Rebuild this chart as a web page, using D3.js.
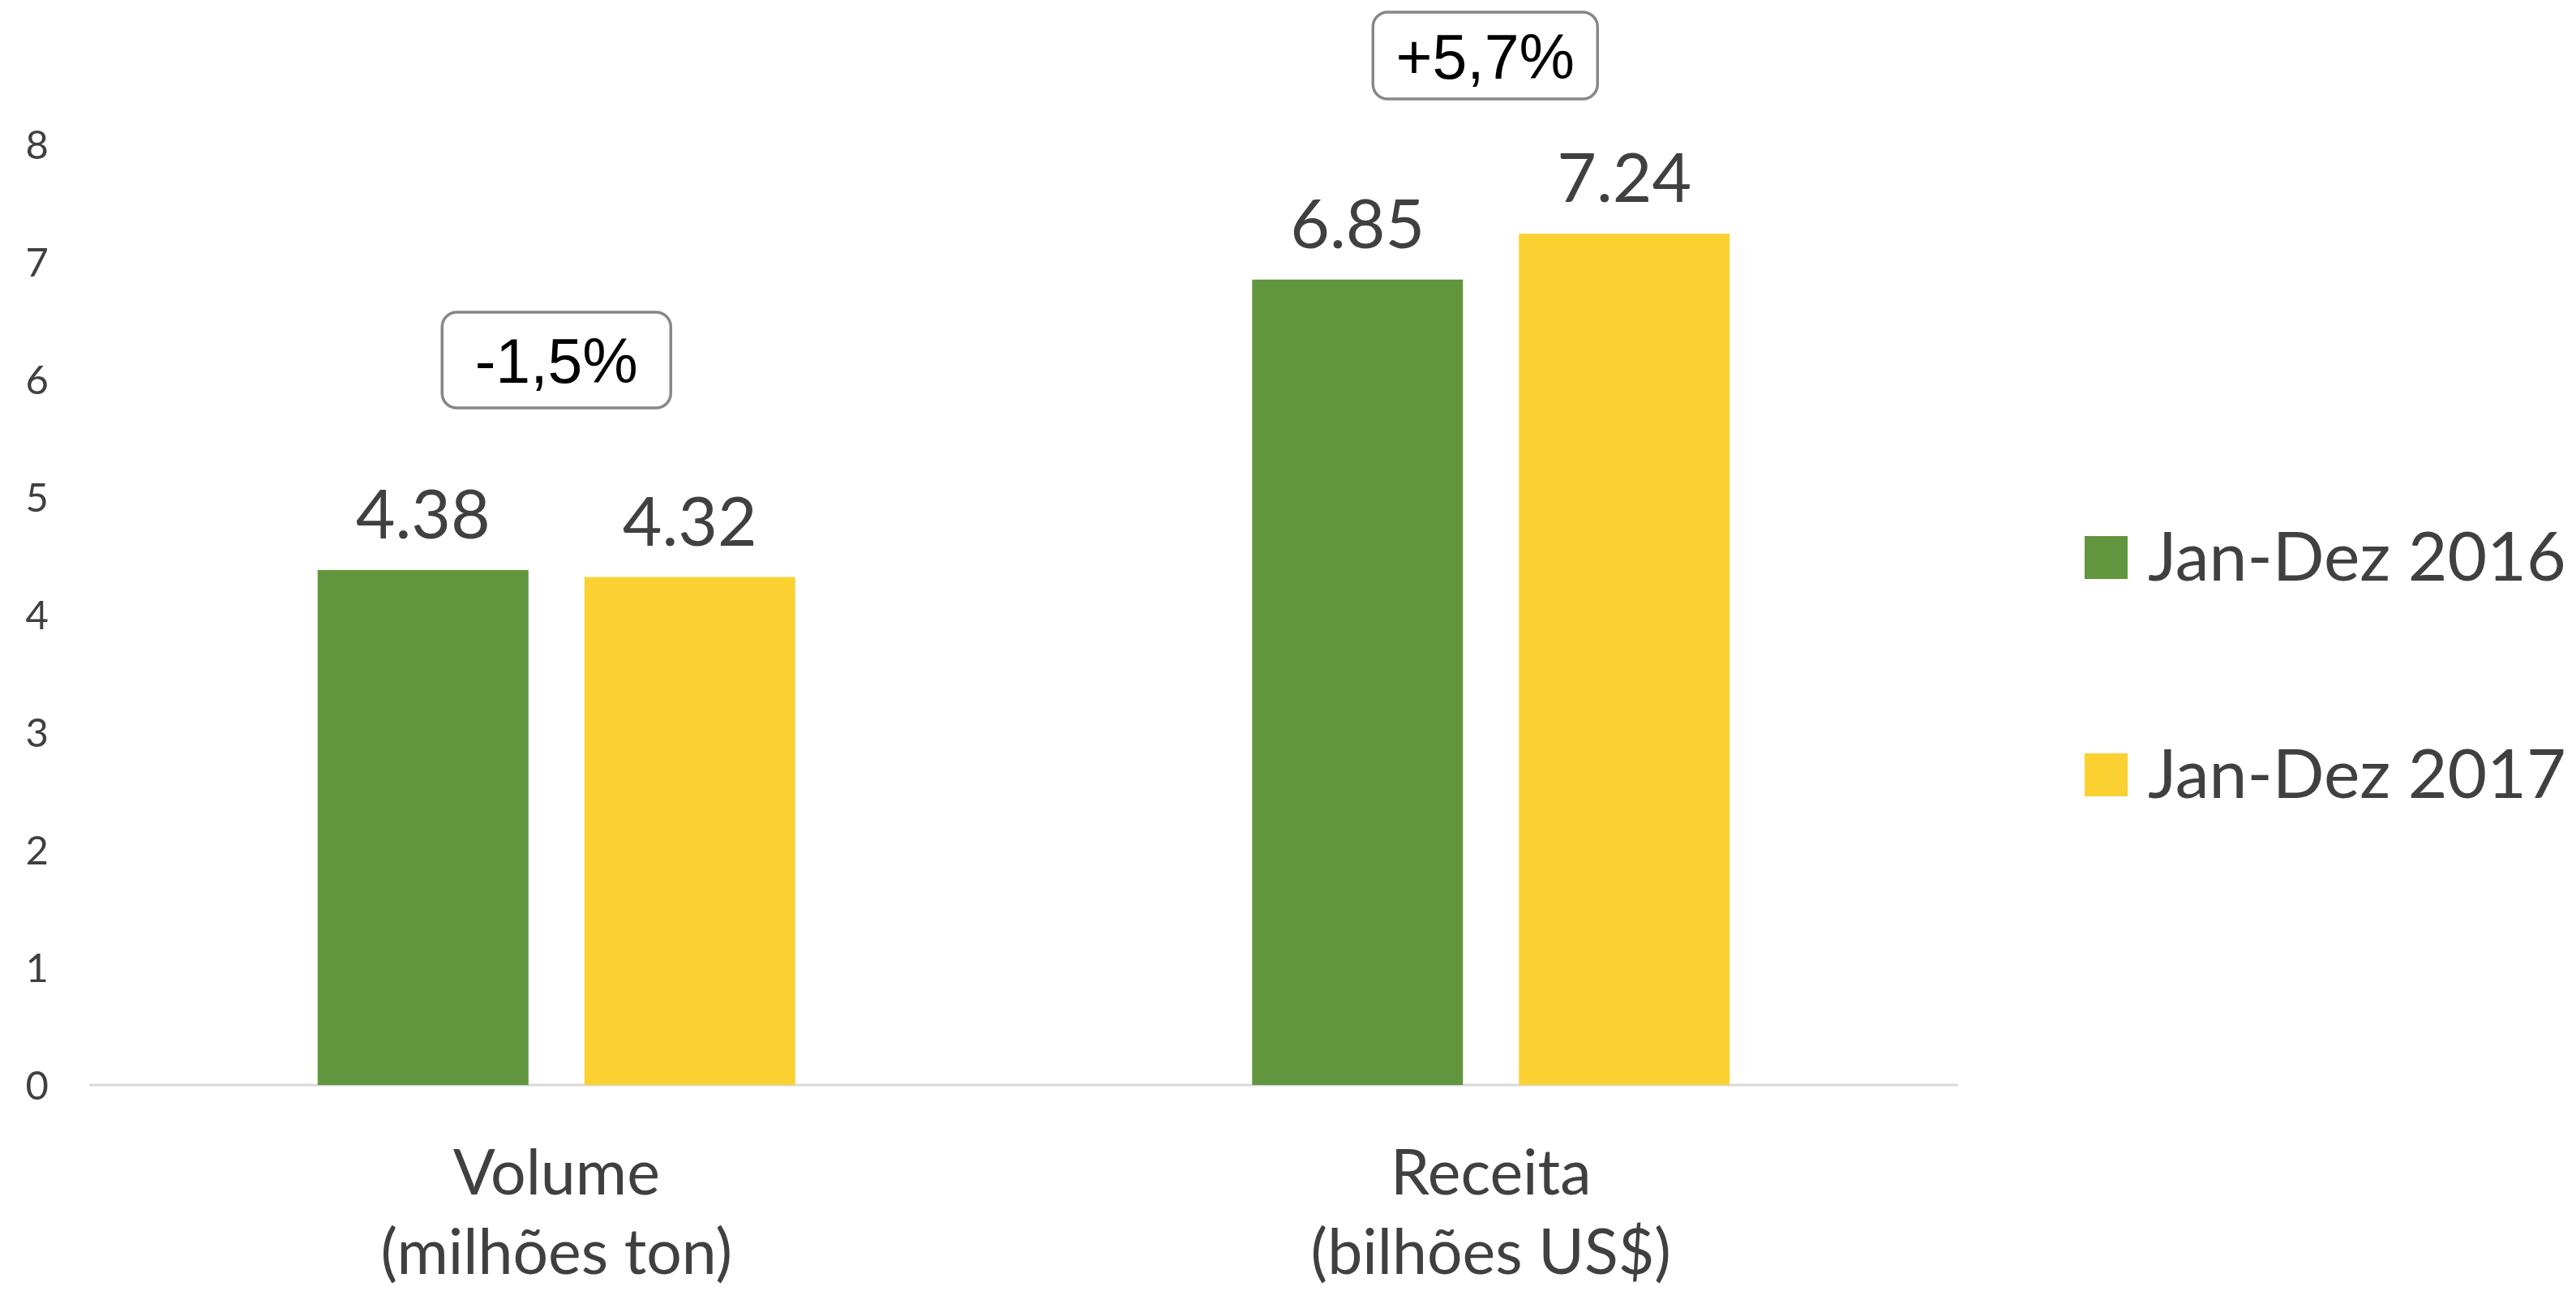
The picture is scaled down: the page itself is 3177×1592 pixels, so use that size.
<!DOCTYPE html>
<html>
<head>
<meta charset="utf-8">
<script src="https://cdn.jsdelivr.net/npm/d3@7/dist/d3.min.js"></script>
<style>
  html, body { margin: 0; padding: 0; background: #ffffff; }
  svg { display: block; }
</style>
</head>
<body>
<script>
// ---------- data ----------
const categories = ["Volume|(milhões ton)", "Receita|(bilhões US$)"];
const seriesNames = ["Jan-Dez 2016", "Jan-Dez 2017"];
const values2016 = [4.38, 6.85];
const values2017 = [4.32, 7.24];
const valueLabels2016 = ["4.38", "6.85"];
const valueLabels2017 = ["4.32", "7.24"];
const changeLabels = ["-1,5%", "+5,7%"];
const yTicks = [0, 1, 2, 3, 4, 5, 6, 7, 8];

// ---------- layout / style ----------
const W = 3177, H = 1592;
const colors = ["#62963E", "#FBD132"];
const textColor = "#404040";
const mainFont = "Lato, 'Open Sans', sans-serif";
const plotLeft = 110, plotRight = 2415, baseY = 1338, topY = 178;
const boxLayout = [
  { dx: 0, cy: 444, w: 282, h: 118 },
  { dx: -7, cy: 68.5, w: 277, h: 107 }
];

const svg = d3.select("body").append("svg")
  .attr("width", W).attr("height", H)
  .attr("viewBox", `0 0 ${W} ${H}`);

const x0 = d3.scaleBand().domain(categories).range([plotLeft, plotRight])
  .paddingInner(0).paddingOuter(0);
const step = 329;
const pi = 69 / step;
const po = (x0.bandwidth() / step - (2 - pi)) / 2;
const x1 = d3.scaleBand().domain(seriesNames).range([0, x0.bandwidth()])
  .paddingInner(pi).paddingOuter(po);
const y = d3.scaleLinear().domain([0, 8]).range([baseY, topY]);
const color = d3.scaleOrdinal().domain(seriesNames).range(colors);

const rows = categories.map((c, i) => ({
  cat: c,
  bars: [
    { s: seriesNames[0], v: values2016[i], lab: valueLabels2016[i] },
    { s: seriesNames[1], v: values2017[i], lab: valueLabels2017[i] }
  ]
}));

// y axis labels
const yAxis = d3.axisLeft(y).tickValues(yTicks).tickSize(0).tickPadding(0)
  .tickFormat(d3.format("d"));
const gy = svg.append("g").attr("transform", "translate(60,0)").call(yAxis);
gy.select(".domain").remove();
gy.selectAll("text")
  .attr("fill", textColor)
  .attr("font-family", mainFont)
  .attr("font-size", 49)
  .attr("dy", "0.36em");

// baseline axis
svg.append("line")
  .attr("x1", plotLeft).attr("x2", plotRight)
  .attr("y1", y(0)).attr("y2", y(0))
  .attr("stroke", "#d9d9d9").attr("stroke-width", 3);

// bars
const groups = svg.append("g").selectAll("g").data(rows).join("g")
  .attr("transform", d => `translate(${x0(d.cat)},0)`);

groups.selectAll("rect").data(d => d.bars).join("rect")
  .attr("x", d => x1(d.s))
  .attr("width", x1.bandwidth())
  .attr("y", d => y(d.v))
  .attr("height", d => y(0) - y(d.v))
  .attr("fill", d => color(d.s));

groups.selectAll("text.val").data(d => d.bars).join("text")
  .attr("class", "val")
  .attr("x", d => x1(d.s) + x1.bandwidth() / 2)
  .attr("y", d => y(d.v) - 39)
  .attr("text-anchor", "middle")
  .attr("fill", textColor)
  .attr("font-family", mainFont)
  .attr("font-size", 84)
  .text(d => d.lab);

// category labels
const catG = svg.append("g").selectAll("text").data(categories).join("text")
  .attr("text-anchor", "middle")
  .attr("fill", textColor)
  .attr("font-family", mainFont)
  .attr("font-size", 77);
catG.each(function (d) {
  const parts = d.split("|");
  const cx = x0(d) + x0.bandwidth() / 2;
  const t = d3.select(this);
  t.append("tspan").attr("x", cx).attr("y", 1473).text(parts[0]);
  t.append("tspan").attr("x", cx).attr("y", 1571).text(parts[1]);
});

// change annotation boxes
const ann = svg.append("g").selectAll("g").data(changeLabels).join("g")
  .attr("transform", (d, i) => {
    const cx = x0(categories[i]) + x0.bandwidth() / 2 + boxLayout[i].dx;
    return `translate(${cx},${boxLayout[i].cy})`;
  });
ann.append("rect")
  .attr("x", (d, i) => -boxLayout[i].w / 2)
  .attr("y", (d, i) => -boxLayout[i].h / 2)
  .attr("width", (d, i) => boxLayout[i].w)
  .attr("height", (d, i) => boxLayout[i].h)
  .attr("rx", 18).attr("ry", 18)
  .attr("fill", "#ffffff")
  .attr("stroke", "#878787")
  .attr("stroke-width", 3.5);
ann.append("text")
  .attr("text-anchor", "middle")
  .attr("y", 28)
  .attr("fill", "#000000")
  .attr("font-family", "'Liberation Sans', Arial, sans-serif")
  .attr("font-size", 77)
  .text(d => d);

// legend
const leg = svg.append("g").selectAll("g").data(seriesNames).join("g")
  .attr("transform", (d, i) => `translate(2571,${661 + i * 268})`);
leg.append("rect")
  .attr("width", 53).attr("height", 53)
  .attr("fill", d => color(d));
leg.append("text")
  .attr("x", 78).attr("y", 55)
  .attr("fill", textColor)
  .attr("font-family", mainFont)
  .attr("font-size", 84)
  .text(d => d);
</script>
</body>
</html>
